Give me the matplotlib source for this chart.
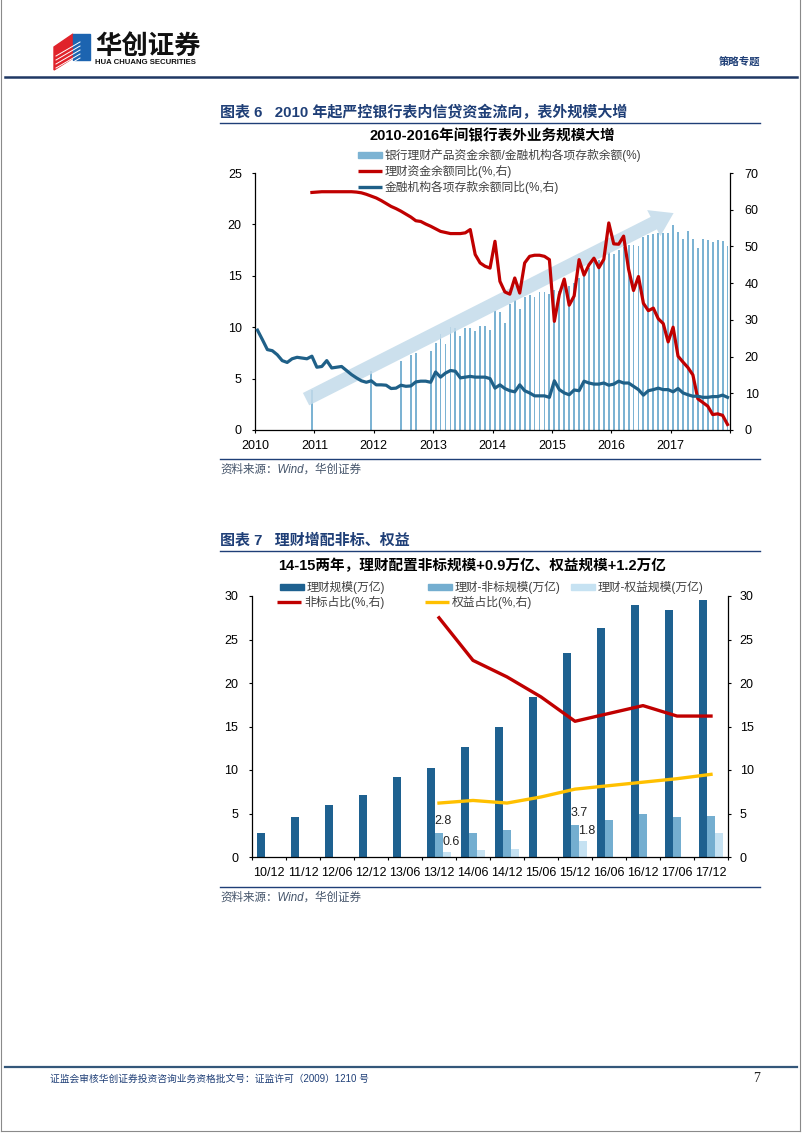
import numpy as np
import matplotlib
matplotlib.use('Agg')
import matplotlib.pyplot as plt
from matplotlib.patches import Rectangle, Polygon, FancyArrowPatch, ArrowStyle
from matplotlib.lines import Line2D

plt.rcParams['font.family'] = ['Liberation Sans', 'Noto Sans CJK SC']
plt.rcParams['axes.unicode_minus'] = False

# ================= Data: chart 6 (monthly, 2010-01 .. 2017-12) =================
nan = np.nan
deposit_yoy = [
    27.2, 24.6, 21.9, 21.6, 20.5, 18.9, 18.4, 19.4, 19.8, 19.6, 19.4, 20.1,
    17.1, 17.3, 18.9, 16.9, 17.1, 17.3, 16.2, 15.1, 14.2, 13.4, 13.0, 13.4,
    12.3, 12.3, 12.2, 11.3, 11.4, 12.2, 11.9, 12.0, 13.1, 13.3, 13.3, 13.0,
    15.8, 14.4, 15.5, 16.2, 16.0, 14.2, 14.4, 14.6, 14.4, 14.4, 14.4, 14.0,
    11.4, 12.3, 11.3, 10.7, 10.4, 12.3, 10.7, 10.1, 9.3, 9.3, 9.3, 8.9,
    13.4, 11.0, 10.1, 9.6, 10.9, 10.7, 13.3, 12.8, 12.5, 12.5, 12.8, 12.2,
    12.5, 13.3, 12.8, 12.8, 11.9, 11.0, 9.5, 10.7, 11.0, 11.4, 11.0, 11.0,
    10.4, 11.3, 10.1, 9.6, 9.2, 9.2, 8.9, 8.9, 9.1, 9.1, 9.5, 8.9,
]
wealth_yoy = [
    nan, nan, nan, nan, nan, nan, nan, nan, nan, nan, nan, 64.7,
    64.8, 64.9, 64.9, 64.9, 64.9, 64.9, 64.9, 64.9, 64.8, 64.6, 64.2, 63.7,
    63.2, 62.5, 61.7, 60.9, 60.3, 59.6, 58.8, 58.0, 57.0, 56.8, 56.1, 55.5,
    54.8, 54.1, 53.8, 53.5, 53.5, 53.5, 53.7, 54.6, 47.8, 45.5, 44.6, 44.1,
    51.4, 40.5, 37.6, 37.0, 41.4, 37.3, 45.5, 47.3, 47.6, 47.6, 47.3, 46.4,
    29.6, 36.9, 41.1, 34.0, 36.5, 46.4, 42.2, 45.0, 46.8, 44.2, 46.5, 56.4,
    50.7, 50.6, 52.8, 43.8, 38.0, 41.8, 34.5, 32.5, 33.2, 30.3, 29.0, 24.0,
    28.0, 20.1, 18.5, 17.0, 15.0, 8.5, 7.5, 6.5, 4.2, 4.4, 4.0, 1.5,
]
wmp_deposit_ratio = [
    nan, nan, nan, nan, nan, nan, nan, nan, nan, nan, nan, 3.9,
    nan, nan, nan, nan, nan, nan, nan, nan, nan, nan, nan, 5.7,
    nan, nan, nan, nan, nan, 6.7, nan, 7.3, 7.5, nan, nan, 7.7,
    8.5, 9.3, 8.4, 10.0, 9.9, 9.1, 9.9, 9.9, 9.6, 10.1, 10.1, 9.7,
    11.6, 11.5, 10.4, 12.3, 12.6, 11.8, 12.9, 13.1, 12.9, 13.4, 13.4, 13.2,
    13.6, 13.5, 14.0, 14.0, 14.3, 14.8, 15.2, 15.8, 16.3, 16.5, 16.8, 17.3,
    17.1, 17.5, 17.8, 18.0, 18.0, 17.9, 18.8, 19.0, 19.1, 19.2, 19.2, 19.2,
    19.9, 19.3, 18.6, 19.4, 18.6, 17.7, 18.6, 18.5, 18.3, 18.5, 18.4, 17.9,
]
years = list(range(2010, 2018))

# ================= Data: chart 7 =================
periods = ['10/12', '11/12', '12/06', '12/12', '13/06', '13/12', '14/06',
           '14/12', '15/06', '15/12', '16/06', '16/12', '17/06', '17/12']
wmp_scale = [2.8, 4.6, 6.0, 7.1, 9.2, 10.2, 12.6, 15.0, 18.4, 23.5, 26.3, 29.0, 28.4, 29.5]
nonstd_scale = [nan, nan, nan, nan, nan, 2.8, 2.8, 3.1, nan, 3.7, 4.3, 5.0, 4.6, 4.7]
equity_scale = [nan, nan, nan, nan, nan, 0.6, 0.8, 0.9, nan, 1.8, nan, nan, nan, 2.8]
nonstd_share = [nan, nan, nan, nan, nan, 27.5, 22.6, 20.7, 18.4, 15.6, 16.5, 17.4, 16.2, 16.2]
equity_share = [nan, nan, nan, nan, nan, 6.2, 6.5, 6.2, 6.9, 7.8, 8.2, 8.6, 9.0, 9.5]
labelled_idx = [5, 9]

# ================= Colours =================
navy = '#1f3f77'
c_bar1 = '#7cb3d3'
c_arrow = '#c3dbea'
c_red = '#c00000'
c_blue = '#1f6088'
c_dark = '#1e6190'
c_mid = '#74aed0'
c_light = '#c6e2f2'
c_yellow = '#ffc000'
txt_gray = '#404040'

W, H = 802, 1133
fig = plt.figure(figsize=(W / 100, H / 100), dpi=100)


def fx(x):
    return x / W


def fy(y):
    return 1 - y / H


def hline(x0, x1, y, color, lw):
    fig.add_artist(Line2D([fx(x0), fx(x1)], [fy(y), fy(y)], color=color, lw=lw,
                          transform=fig.transFigure))


def legend_item(x, y, label, color, kind):
    if kind == 'bar':
        fig.add_artist(Rectangle((fx(x), fy(y + 3)), 24 / W, 6 / H, color=color,
                                 transform=fig.transFigure))
    else:
        fig.add_artist(Line2D([fx(x), fx(x + 24)], [fy(y), fy(y)], color=color, lw=2.4,
                              transform=fig.transFigure, solid_capstyle='butt'))
    fig.text(fx(x + 27), fy(y), label, fontsize=8.5, color=txt_gray, va='center', ha='left')


def style_axis(ax, side):
    for s in ['top', 'left', 'right', 'bottom']:
        ax.spines[s].set_visible(False)
    ax.spines[side].set_visible(True)
    ax.spines[side].set_color('black')
    ax.spines[side].set_linewidth(0.9)


# -------------------- Page frame, header, footer --------------------
fig.add_artist(Line2D([fx(1), fx(1)], [fy(0), fy(1131)], color='#8a8a8a', lw=0.8,
                      transform=fig.transFigure))
fig.add_artist(Line2D([fx(800), fx(800)], [fy(0), fy(1131)], color='#8a8a8a', lw=0.8,
                      transform=fig.transFigure))
hline(1, 800, 1131, '#8a8a8a', 0.8)

# logo
fig.add_artist(Polygon([(fx(54), fy(47)), (fx(73), fy(34)), (fx(73), fy(58)), (fx(54), fy(70))],
                       closed=True, color='#e0232b', transform=fig.transFigure))
fig.add_artist(Polygon([(fx(73), fy(34)), (fx(90), fy(34)), (fx(90), fy(60)), (fx(73), fy(60))],
                       closed=True, color='#1c64b0', transform=fig.transFigure))
for k in range(5):
    yy = 50 + k * 4
    fig.add_artist(Line2D([fx(56), fx(80)], [fy(yy + 6), fy(yy - 8)], color='white', lw=0.7,
                          transform=fig.transFigure))
fig.text(fx(95), fy(46), '华创证券', fontsize=19, fontweight='bold', color='#111111',
         va='center', ha='left', family=['Noto Sans CJK SC'])
fig.text(fx(95), fy(62), 'HUA CHUANG SECURITIES', fontsize=5.6, fontweight='bold',
         color='#111111', va='center', ha='left')
fig.text(fx(760), fy(62), '策略专题', fontsize=7.5, fontweight='bold', color=navy,
         va='center', ha='right')
hline(5, 797, 77, '#1f3864', 1.8)

hline(5, 797, 1067, '#34577a', 1.6)
fig.text(fx(50), fy(1079), '证监会审核华创证券投资咨询业务资格批文号：证监许可（2009）1210 号',
         fontsize=7, color=navy, va='center', ha='left')
fig.text(fx(760), fy(1078), '7', fontsize=10, color='#222222', va='center', ha='right',
         family=['Liberation Serif'])

# ======================= Chart 6 =======================
fig.text(fx(220), fy(112), '图表 6   2010 年起严控银行表内信贷资金流向，表外规模大增',
         fontsize=10.8, fontweight='bold', color=navy, va='center', ha='left')
hline(220, 760, 123, navy, 1.0)
fig.text(fx(492), fy(136), '2010-2016年间银行表外业务规模大增', fontsize=10.5,
         fontweight='bold', color='black', va='center', ha='center')

ax1 = fig.add_axes([fx(255), fy(430), (730 - 255) / W, (430 - 173) / H])
ax1r = ax1.twinx()

xpos = 2010 + (np.arange(len(deposit_yoy)) + 0.5) / 12
ratio = np.array(wmp_deposit_ratio)
mask = ~np.isnan(ratio)
ax1.bar(xpos[mask], ratio[mask], width=0.38 / 12, color=c_bar1, zorder=1)

# decorative trend arrow (data units of the left axis)
arrow_start = (2010.86, 3.0)
arrow_end = (2017.05, 21.1)
ax1.add_patch(FancyArrowPatch(arrow_start, arrow_end,
                              arrowstyle=ArrowStyle.Simple(head_length=16, head_width=21,
                                                           tail_width=10),
                              mutation_scale=1, shrinkA=0, shrinkB=0, color=c_arrow,
                              alpha=0.85, lw=0, zorder=2))

ax1r.plot(xpos, wealth_yoy, color=c_red, lw=2.3, solid_joinstyle='round')
ax1r.plot(xpos, deposit_yoy, color=c_blue, lw=2.3, solid_joinstyle='round')

ax1.set_xlim(2010, 2018)
ax1.set_ylim(0, 25)
ax1r.set_ylim(0, 70)
ax1.set_xticks(years + [2018])
ax1.set_xticklabels([str(y) for y in years] + [''])
ax1.set_yticks(range(0, 26, 5))
ax1r.set_yticks(range(0, 71, 10))
style_axis(ax1, 'left')
ax1.spines['bottom'].set_visible(True)
ax1.spines['bottom'].set_linewidth(0.9)
style_axis(ax1r, 'right')
ax1.tick_params(axis='y', direction='out', length=2.5, width=0.8, pad=7, labelsize=9)
ax1.tick_params(axis='x', direction='out', length=2.5, width=0.8, pad=4.5, labelsize=9)
ax1r.tick_params(axis='y', direction='out', length=2.5, width=0.8, pad=8, labelsize=9)
ax1.patch.set_visible(False)

legend_item(358, 155, '银行理财产品资金余额/金融机构各项存款余额(%)', c_bar1, 'bar')
legend_item(358, 171, '理财资金余额同比(%,右)', c_red, 'line')
legend_item(358, 187, '金融机构各项存款余额同比(%,右)', c_blue, 'line')

hline(220, 760, 459, navy, 1.0)
fig.text(fx(220), fy(470), '资料来源：Wind，华创证券', fontsize=8.3, color='#44546a',
         va='center', ha='left', style='italic')

# ======================= Chart 7 =======================
fig.text(fx(220), fy(540), '图表 7   理财增配非标、权益', fontsize=10.8, fontweight='bold',
         color=navy, va='center', ha='left')
hline(220, 760, 551, navy, 1.0)
fig.text(fx(472), fy(566), '14-15两年，理财配置非标规模+0.9万亿、权益规模+1.2万亿',
         fontsize=10.5, fontweight='bold', color='black', va='center', ha='center')

ax2 = fig.add_axes([fx(252), fy(857), (728 - 252) / W, (857 - 596) / H])
ax2r = ax2.twinx()

x = np.arange(len(periods))
bw = 0.226
s1 = np.array(wmp_scale)
s2 = np.array(nonstd_scale)
s3 = np.array(equity_scale)
ax2.bar(x - bw, s1, bw, color=c_dark, zorder=2)
ax2.bar(x[~np.isnan(s2)], s2[~np.isnan(s2)], bw, color=c_mid, zorder=2)
ax2.bar(x[~np.isnan(s3)] + bw, s3[~np.isnan(s3)], bw, color=c_light, zorder=2)
for i in labelled_idx:
    ax2.annotate(f'{s2[i]:.1f}', (x[i], s2[i]), xytext=(3, 4), textcoords='offset points',
                 ha='center', va='bottom', fontsize=9, color='#222222')
    ax2.annotate(f'{s3[i]:.1f}', (x[i] + bw, s3[i]), xytext=(3, 3), textcoords='offset points',
                 ha='center', va='bottom', fontsize=9, color='#222222')

ax2r.plot(x, nonstd_share, color=c_red, lw=2.4, solid_joinstyle='round')
ax2r.plot(x, equity_share, color=c_yellow, lw=2.4, solid_joinstyle='round')

ax2.set_xlim(-0.5, len(periods) - 0.5)
ax2.set_ylim(0, 30)
ax2r.set_ylim(0, 30)
ax2.set_xticks(x)
ax2.set_xticklabels(periods)
ax2.set_xticks(np.arange(-0.5, len(periods), 1), minor=True)
ax2.set_yticks(range(0, 31, 5))
ax2r.set_yticks(range(0, 31, 5))
style_axis(ax2, 'left')
ax2.spines['bottom'].set_visible(True)
ax2.spines['bottom'].set_linewidth(0.9)
style_axis(ax2r, 'right')
ax2.tick_params(axis='x', which='major', length=0, pad=7.5, labelsize=9)
ax2.tick_params(axis='x', which='minor', direction='out', length=2.5, width=0.8)
ax2.tick_params(axis='y', direction='out', length=2.5, width=0.8, pad=7.5, labelsize=9)
ax2r.tick_params(axis='y', direction='out', length=2.5, width=0.8, pad=6, labelsize=9)
ax2.patch.set_visible(False)

legend_item(280, 587, '理财规模(万亿)', c_dark, 'bar')
legend_item(428, 587, '理财-非标规模(万亿)', c_mid, 'bar')
legend_item(571, 587, '理财-权益规模(万亿)', c_light, 'bar')
legend_item(277, 602, '非标占比(%,右)', c_red, 'line')
legend_item(425, 602, '权益占比(%,右)', c_yellow, 'line')

hline(220, 760, 887, navy, 1.0)
fig.text(fx(220), fy(898), '资料来源：Wind，华创证券', fontsize=8.3, color='#44546a',
         va='center', ha='left', style='italic')

fig.savefig('out.png', dpi=100)
